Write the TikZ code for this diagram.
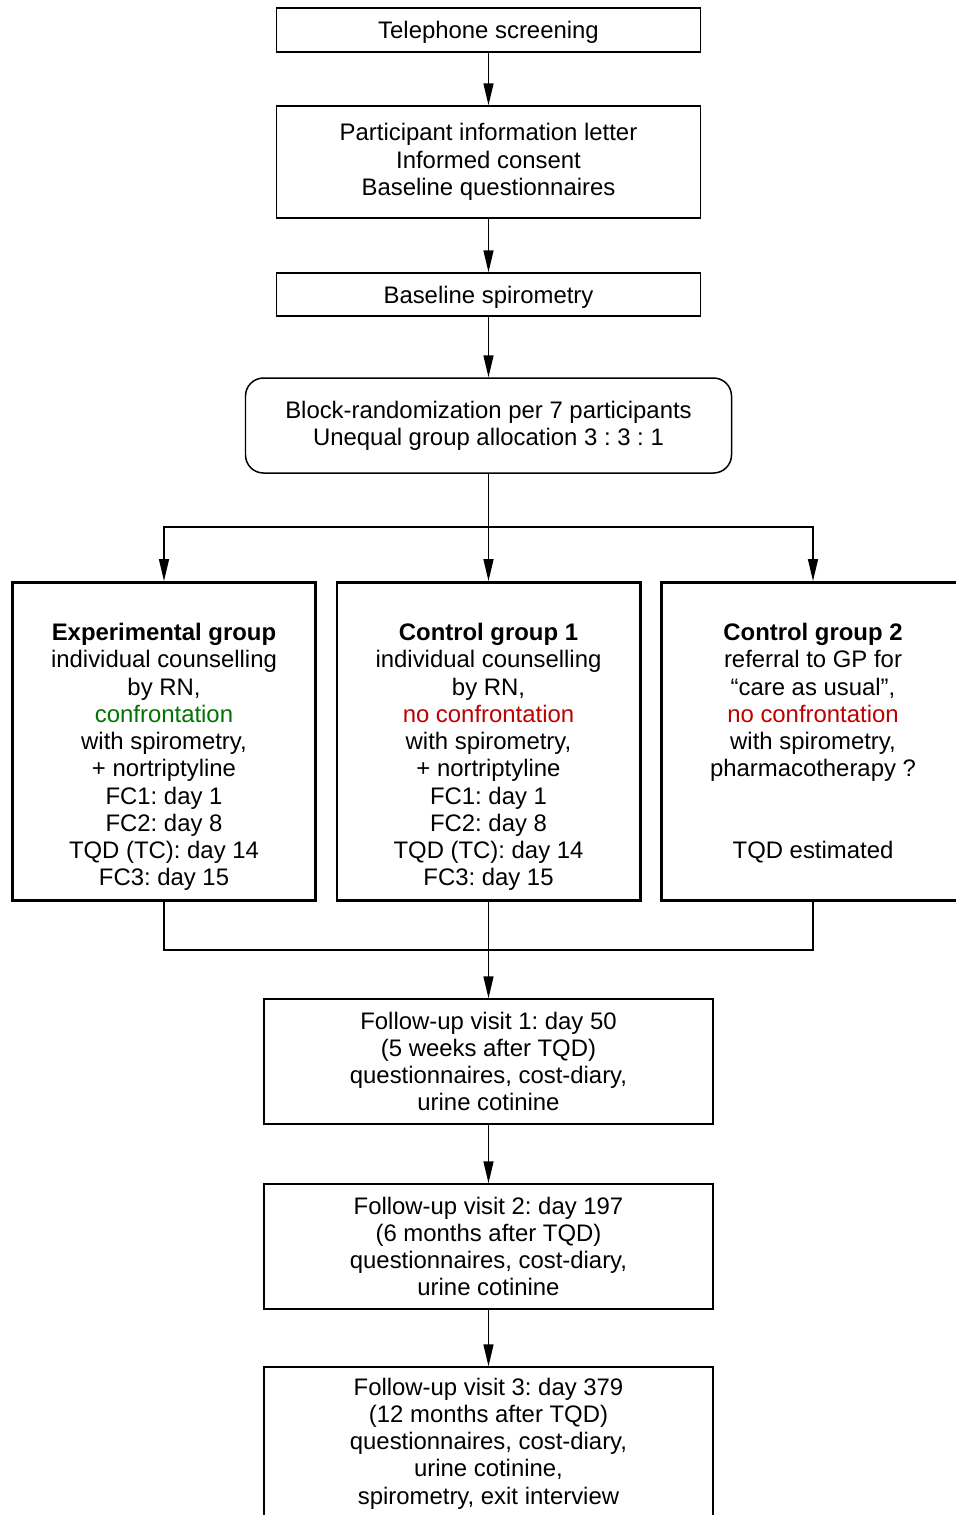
\documentclass[tikz,border=0pt]{standalone}
\usepackage{fontspec}
\setmainfont{Liberation Sans}
\usetikzlibrary{arrows.meta}
\definecolor{confgreen}{RGB}{0,115,0}
\definecolor{noconfred}{RGB}{190,0,0}
\frenchspacing
\begin{document}
\begin{tikzpicture}[
        box/.style={draw, line width=0.85pt, align=center, inner sep=0pt,
            minimum width=8.48cm, font=\fontsize{13.6}{15.5}\selectfont},
        grpbox/.style={draw, line width=1.7pt, inner sep=0pt,
            minimum width=6.06cm, minimum height=6.36cm},
        grptext/.style={align=center, inner sep=0pt, anchor=north,
            font=\fontsize{13.6}{15.5}\selectfont},
        link/.style={line width=0.85pt},
        >={Triangle[length=0.44cm, width=0.2cm]}
    ]
        \useasboundingbox (0,0) rectangle (19.1,-30.3);
        % nodes
        \node[box, minimum height=0.88cm, text depth=0pt] (tel)   at (9.77, -0.6)  {Telephone screening};
        \node[box, minimum height=2.24cm] (info)  at (9.77, -3.24) {Participant information letter\\ Informed consent\\ Baseline questionnaires};
        \node[box, minimum height=0.86cm, text depth=0pt] (spiro) at (9.77, -5.89) {Baseline spirometry};
        \node[box, rounded corners=0.36cm, minimum width=9.72cm, minimum height=1.9cm] (rand) at (9.77, -8.51)
            {Block-randomization per 7 participants\\ Unequal group allocation 3 : 3 : 1};
        \coordinate (split) at (9.77, -10.54);
            \node[grpbox] (exp)  at (3.28, -14.83)  {};
            \node[grpbox] (ctl1) at (9.77, -14.83)  {};
            \node[grpbox] (ctl2) at (16.26, -14.83) {};
            \node[grptext] (exp-txt) at (3.28, -12.46) {\textbf{Experimental group}\\ individual counselling\\ by RN,\\
                \textcolor{confgreen}{confrontation}\\ with spirometry,\\ + nortriptyline\\ FC1: day 1\\ FC2: day 8\\ TQD (TC): day 14\\ FC3: day 15};
            \node[grptext] (ctl1-txt) at (9.77, -12.46) {\textbf{Control group 1}\\ individual counselling\\ by RN,\\
                \textcolor{noconfred}{no confrontation}\\ with spirometry,\\ + nortriptyline\\ FC1: day 1\\ FC2: day 8\\ TQD (TC): day 14\\ FC3: day 15};
            \node[grptext] (ctl2-txt) at (16.26, -12.46) {\textbf{Control group 2}\\ referral to GP for\\ “care as usual”,\\
                \textcolor{noconfred}{no confrontation}\\ with spirometry,\\ pharmacotherapy ?\\ \mbox{}\\ \mbox{}\\ TQD estimated};
        \coordinate (join) at (9.77, -19.0);
        \node[box, minimum width=8.98cm, minimum height=2.5cm] (fu1) at (9.77, -21.23)
            {Follow-up visit 1: day 50\\ (5 weeks after TQD)\\ questionnaires, cost-diary,\\ urine cotinine};
        \node[box, minimum width=8.98cm, minimum height=2.5cm] (fu2) at (9.77, -24.93)
            {Follow-up visit 2: day 197\\ (6 months after TQD)\\ questionnaires, cost-diary,\\ urine cotinine};
        \node[box, minimum width=8.98cm, minimum height=3.06cm] (fu3) at (9.77, -28.87)
            {Follow-up visit 3: day 379\\ (12 months after TQD)\\ questionnaires, cost-diary,\\ urine cotinine,\\ spirometry, exit interview};
        % arrows
        \draw[link, ->] (tel)   -- (info);
        \draw[link, ->] (info)  -- (spiro);
        \draw[link, ->] (spiro) -- (rand);
        \draw[link, ->] (rand)  -- (ctl1);
        \draw[link, ->] (split) -| (exp);
        \draw[link, ->] (split) -| (ctl2);
        \draw[link]     (exp)   |- (join);
        \draw[link]     (ctl2)  |- (join);
        \draw[link, ->] (ctl1)  -- (fu1);
        \draw[link, ->] (fu1)   -- (fu2);
        \draw[link, ->] (fu2)   -- (fu3);
\end{tikzpicture}
\end{document}
